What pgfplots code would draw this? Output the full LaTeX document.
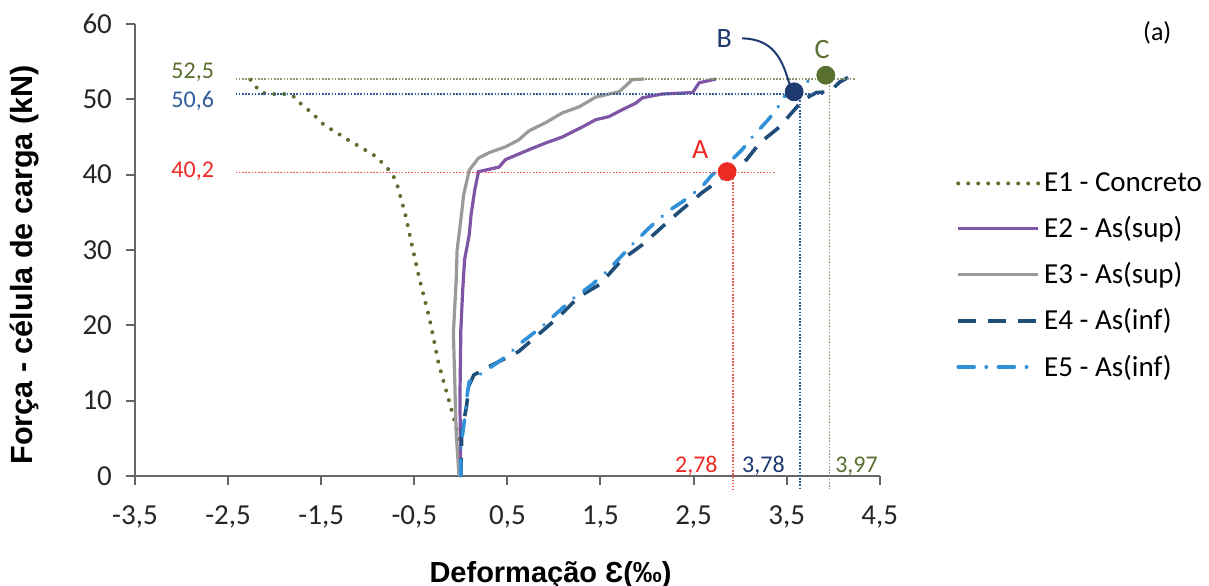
\documentclass[border=0pt]{standalone}
\usepackage{fontspec}
\setmainfont{Carlito}
\newfontfamily\labfont{Liberation Sans}
\usepackage{pgfplots}
\pgfplotsset{compat=1.18}
\definecolor{olv}{HTML}{5A7030}
\definecolor{purp}{HTML}{7F55A6}
\definecolor{gry}{HTML}{9A9A9A}
\definecolor{navy}{HTML}{1F4E79}
\definecolor{lblue}{HTML}{3090D8}
\definecolor{bdot}{HTML}{1F3A70}
\definecolor{midblue}{HTML}{2E5C9A}
\definecolor{red1}{HTML}{EE2A24}

\begin{document}
\begin{tikzpicture}
\begin{axis}[
  width=372.5pt, height=226pt, scale only axis,
  xmin=-3.5, xmax=4.5, ymin=0, ymax=60,
  xtick={-3.5,-2.5,...,4.5}, ytick={0,10,...,60},
  axis x line=bottom, axis y line=left,
  axis line style={-, draw=black!60, line width=1pt},
  tick style={draw=black!60, line width=1pt},
  tick align=outside, major tick length=4.5pt,
  tick label style={font=\fontsize{14.5}{16}\selectfont, text=black!85},
  xticklabel style={yshift=-7pt},
  yticklabel style={xshift=-3.5pt},
  /pgf/number format/assume math mode=true,
  /pgf/number format/use comma,
  xticklabel={\pgfmathprintnumber[fixed,fixed zerofill,precision=1]{\tick}},
  clip=false,
  xlabel={Deformação Ɛ(‰)},
  ylabel={Força - célula de carga (kN)},
  xlabel style={font=\labfont\bfseries\fontsize{14.5}{16}\selectfont, at={(axis description cs:0.558,-0.219)}, anchor=center},
  ylabel style={font=\labfont\bfseries\fontsize{15.3}{17}\selectfont, at={(axis description cs:-0.148,0.467)}, anchor=center},
  legend style={draw=none, fill=none, at={(axis description cs:1.094,0.69)}, anchor=north west,
    font=\fontsize{14.5}{16}\selectfont, row sep=7pt, cells={anchor=west}},
  legend image code/.code={\draw[#1] (0pt,0pt) -- (40pt,0pt);},
]
% E1 - Concreto
\addplot[olv, line width=2pt, line cap=round, dash pattern=on 0pt off 5pt] coordinates {
(-2.26,52.6) (-2.15,50.9) (-2.05,50.7) (-1.88,50.7) (-1.78,50.3) (-1.71,49.3) (-1.60,48.2)
(-1.47,46.6) (-1.35,45.7) (-1.21,44.6) (-1.07,43.6) (-0.91,42.4) (-0.80,41.0) (-0.74,40.2)
(-0.69,38.9) (-0.64,36.7) (-0.59,34.4) (-0.53,30.9) (-0.45,26.4) (-0.34,21.1) (-0.24,15.0)
(-0.13,10.1) (-0.05,6.5) (-0.02,3.9) (-0.01,1.0)};
\addlegendentry{E1 - Concreto}
% E2
\addplot[purp, line width=1.6pt] coordinates {
(0.0,0) (-0.01,10.1) (0.0,19.4) (0.02,24.7) (0.04,28.7) (0.09,32.0) (0.11,34.7) (0.15,38.0)
(0.19,40.4) (0.41,41.0) (0.48,42.0) (0.73,43.3) (0.91,44.2) (1.09,45.0) (1.30,46.3) (1.45,47.3)
(1.59,47.7) (1.73,48.6) (1.88,49.5) (1.95,50.2) (2.16,50.7) (2.49,50.9) (2.56,52.2) (2.74,52.7)};
\addlegendentry{E2 - As(sup)}
% E3
\addplot[gry, line width=1.6pt] coordinates {
(-0.02,0) (-0.05,5.7) (-0.08,19.0) (-0.05,26.0) (-0.04,30.0) (0.0,34.0) (0.03,37.3) (0.09,40.6)
(0.19,42.2) (0.30,42.9) (0.48,43.7) (0.62,44.6) (0.73,45.8) (0.91,46.9) (1.09,48.2) (1.27,49.0)
(1.45,50.3) (1.70,51.0) (1.78,51.9) (1.84,52.6) (1.97,52.7)};
\addlegendentry{E3 - As(sup)}
% E4
\addplot[navy, line width=1.8pt, dash pattern=on 9pt off 6pt] coordinates {
(0.0,0) (0.01,5.7) (0.06,9.2) (0.09,12.1) (0.14,13.4) (0.30,14.5) (0.62,16.5) (1.05,21.1)
(1.27,23.8) (1.49,25.4) (1.73,28.7) (1.95,30.7) (2.13,32.7) (2.33,34.9) (2.59,37.6) (2.78,39.3)
(2.88,40.2) (3.07,42.0) (3.21,44.2) (3.42,46.3) (3.61,49.0) (3.67,49.9) (3.82,50.9) (3.96,51.0)
(4.07,52.3) (4.16,52.9)};
\addlegendentry{E4 - As(inf)}
% E5
\addplot[lblue, line width=1.8pt, line cap=round, dash pattern=on 8pt off 6pt on 0.1pt off 6pt] coordinates {
(0.0,0) (0.0,3.9) (0.05,8.4) (0.06,10.1) (0.09,12.5) (0.16,13.1) (0.33,14.5) (0.48,15.8)
(0.65,17.7) (0.87,19.8) (1.19,23.4) (1.41,25.4) (1.59,27.4) (1.84,30.7) (2.02,32.9) (2.22,35.1)
(2.38,36.4) (2.59,38.4) (2.70,40.0) (2.88,41.6) (3.02,43.3) (3.13,45.0) (3.28,47.0) (3.39,48.6)
(3.46,50.3) (3.58,51.0) (3.75,52.6) (3.82,52.9)};
\addlegendentry{E5 - As(inf)}
% reference lines
\addplot[olv!70, line width=0.8pt, dash pattern=on 0.8pt off 0.8pt, forget plot] coordinates {(-2.42,52.7) (4.23,52.7)};
\addplot[midblue, line width=0.8pt, dash pattern=on 0.8pt off 0.8pt, forget plot] coordinates {(-2.42,50.7) (3.9,50.7)};
\addplot[red1!80, line width=0.8pt, dash pattern=on 0.8pt off 0.8pt, forget plot] coordinates {(-2.42,40.3) (3.37,40.3)};
\addplot[red1!80, line width=0.8pt, dash pattern=on 0.8pt off 0.8pt, forget plot] coordinates {(2.92,40.3) (2.92,-1.8)};
\addplot[midblue, line width=0.8pt, dash pattern=on 0.8pt off 0.8pt, forget plot] coordinates {(3.64,50.7) (3.64,-1.8)};
\addplot[olv!70, line width=0.8pt, dash pattern=on 0.8pt off 0.8pt, forget plot] coordinates {(3.96,52.7) (3.96,-1.8)};
% points
\addplot[only marks, mark=*, mark size=4.5pt, color=red1, forget plot] coordinates {(2.86,40.4)};
\addplot[only marks, mark=*, mark size=4.5pt, color=bdot, forget plot] coordinates {(3.58,51.0)};
\addplot[only marks, mark=*, mark size=4.5pt, color=olv, forget plot] coordinates {(3.92,53.2)};
% B leader
\draw[bdot, line width=1pt] (axis cs:3.02,58.1) .. controls (axis cs:3.35,58.0) and (axis cs:3.45,55.5) .. (axis cs:3.53,52.0);
% annotations
\node[text=olv, font=\fontsize{12}{14}\selectfont] at (axis cs:-2.88,53.6) {52,5};
\node[text=midblue, font=\fontsize{12}{14}\selectfont] at (axis cs:-2.88,49.8) {50,6};
\node[text=red1, font=\fontsize{12}{14}\selectfont] at (axis cs:-2.88,40.4) {40,2};
\node[text=red1, font=\fontsize{12}{14}\selectfont] at (axis cs:2.53,1.3) {2,78};
\node[text=bdot, font=\fontsize{12}{14}\selectfont] at (axis cs:3.25,1.3) {3,78};
\node[text=olv, font=\fontsize{12}{14}\selectfont] at (axis cs:4.25,1.3) {3,97};
\node[text=red1, font=\fontsize{14}{16}\selectfont] at (axis cs:2.57,43.3) {A};
\node[text=bdot, font=\fontsize{14}{16}\selectfont] at (axis cs:2.83,58.1) {B};
\node[text=olv, font=\fontsize{14}{16}\selectfont] at (axis cs:3.88,56.6) {C};
\node[font=\fontsize{13}{15}\selectfont] at (axis cs:7.48,58.8) {(a)};
\coordinate (bl) at (axis cs:-4.95,-14.6);
\coordinate (tr) at (axis cs:8.036,63.19);
\end{axis}
\pgfresetboundingbox
\useasboundingbox (bl) rectangle (tr);
\end{tikzpicture}
\end{document}
